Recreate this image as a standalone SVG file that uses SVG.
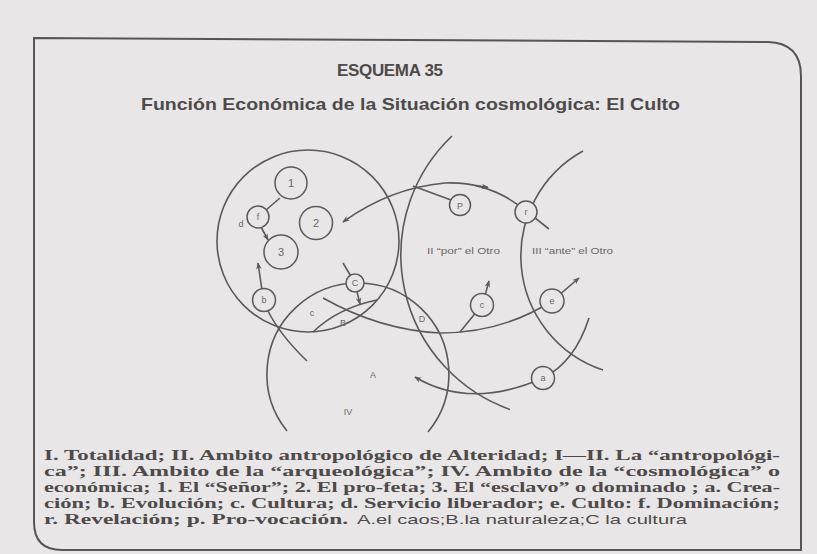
<svg xmlns="http://www.w3.org/2000/svg" width="817" height="554" viewBox="0 0 817 554">
<defs>
<marker id="arr" viewBox="0 0 10 10" refX="9" refY="5" markerUnits="userSpaceOnUse" markerWidth="11" markerHeight="7" orient="auto-start-reverse">
<path d="M0,1 L10,5 L0,9 L3,5 z" fill="#5e5959"/>
</marker>
<style>
.ln{fill:none;stroke:#5e5959;stroke-width:1.6}
.ar{fill:none;stroke:#5e5959;stroke-width:1.6;marker-end:url(#arr)}
.nd{fill:#e8e6e7;stroke:#5e5959;stroke-width:1.5}
.lb{font-family:"Liberation Sans",Arial,sans-serif;font-size:9px;fill:#6a6666;text-anchor:middle}
.num{font-size:11px}
.rg{font-family:"Liberation Sans",Arial,sans-serif;font-size:9.5px;fill:#6a6666}
.lg{font-family:"Liberation Serif","Times New Roman",serif;font-weight:bold;font-size:14px;fill:#4e4a4a}
.lgs{font-family:"Liberation Sans",Arial,sans-serif;font-weight:normal;font-size:13.5px}
.tt{font-family:"Liberation Sans",Arial,sans-serif;font-weight:bold;fill:#4e4a4a}
</style>
</defs>
<rect width="817" height="554" fill="#e8e6e7"/>
<path id="frame" d="M34,38 L768,42 Q801,43 801,76 L801,550 L62,550 Q34,550 34,522 Z" fill="none" stroke="#555" stroke-width="2"/>
<text class="tt" x="337" y="76" font-size="17" textLength="106" lengthAdjust="spacing">ESQUEMA 35</text>
<text class="tt" x="141" y="110" font-size="16.5" textLength="539" lengthAdjust="spacingAndGlyphs">Función Económica de la Situación cosmológica: El Culto</text>

<g id="ambito-I">
<circle cx="308" cy="241" r="91" class="ln"/>
</g>
<g id="ambito-II">
<path d="M452,136 A164,164 0 0 0 510,409.5" class="ln"/>
<text class="rg" x="427" y="254" textLength="73" lengthAdjust="spacingAndGlyphs">II “por” el Otro</text>
</g>
<g id="ambito-III">
<path d="M583,151 A120,120 0 0 0 603,370" class="ln"/>
<text class="rg" x="532" y="254" textLength="81" lengthAdjust="spacingAndGlyphs">III “ante” el Otro</text>
</g>
<g id="ambito-IV">
<path d="M287,431 A91,91 0 1 1 428,432" class="ln"/>
<text class="lb" x="373" y="378" font-size="10">A</text>
<text class="lb" x="348" y="415" font-size="10">IV</text>
</g>

<g id="connectors">
<path d="M343,222 Q390,188 445,183 Q490,181 526,211 L549,229" class="ln" marker-start="url(#arr)"/>
<path d="M476,185.6 L488,187.4" class="ar"/>
<path d="M413,186 L451,200" class="ln"/>
<path d="M323,298 Q380,330 440,333 Q502,333 552,301 L579,278" class="ln" marker-end="url(#arr)"/>
<path d="M460,332 L482,305" class="ln"/>
<path d="M484,299 L489,281" class="ar"/>
<path d="M415,377 Q470,410 543,378 Q575,362 589,318" class="ln" marker-start="url(#arr)"/>
<path d="M313,332 Q338,308 377,300" class="ln"/>
<path d="M268,311 Q280,335 307,361" class="ln"/>
<path d="M262,290 L258,263" class="ar"/>
<path d="M343,263 L355,283" class="ln"/>
<path d="M357,292 L360,304" class="ar"/>
<path d="M280,198 L266,210" class="ln"/>
<path d="M261,227 L268,240" class="ar"/>
</g>

<g id="n1"><circle cx="291" cy="183" r="16" class="nd"/><text class="lb num" x="291" y="187">1</text></g>
<g id="n2"><circle cx="316" cy="223" r="16.5" class="nd"/><text class="lb num" x="316" y="227">2</text></g>
<g id="n3"><circle cx="281" cy="252" r="17" class="nd"/><text class="lb num" x="281" y="256">3</text></g>
<g id="nf"><circle cx="258" cy="217" r="11" class="nd"/><text class="lb" x="258" y="220">f</text></g>
<g id="nb"><circle cx="264" cy="300" r="11.5" class="nd"/><text class="lb" x="264" y="303">b</text></g>
<g id="nC"><circle cx="355" cy="283" r="9" class="nd"/><text class="lb" x="355" y="286">C</text></g>
<g id="nP"><circle cx="460" cy="205" r="10.5" class="nd"/><text class="lb" x="460" y="208.5">P</text></g>
<g id="nr"><circle cx="526" cy="212" r="11" class="nd"/><text class="lb" x="526" y="215">r</text></g>
<g id="nc"><circle cx="482" cy="305" r="11.5" class="nd"/><text class="lb" x="482" y="308">c</text></g>
<g id="ne"><circle cx="552" cy="301" r="12" class="nd"/><text class="lb" x="552" y="304">e</text></g>
<g id="na"><circle cx="543" cy="378" r="11.5" class="nd"/><text class="lb" x="543" y="381">a</text></g>

<g id="labels">
<text class="lb" x="241" y="227" font-size="10">d</text>
<text class="lb" x="312" y="316" font-size="10">c</text>
<text class="lb" x="343" y="326" font-size="10">B</text>
<text class="lb" x="422" y="322" font-size="10">D</text>
</g>

<g id="legend">
<text class="lg" x="44" y="460" textLength="736" lengthAdjust="spacingAndGlyphs">I. Totalidad; II. Ambito antropológico de Alteridad; I—II. La “antropológi-</text>
<text class="lg" x="44" y="476" textLength="736" lengthAdjust="spacingAndGlyphs">ca”; III. Ambito de la “arqueológica”; IV. Ambito de la “cosmológica” o</text>
<text class="lg" x="44" y="492" textLength="736" lengthAdjust="spacingAndGlyphs">económica; 1. El “Señor”; 2. El pro-feta; 3. El “esclavo” o dominado ; a. Crea-</text>
<text class="lg" x="44" y="508" textLength="736" lengthAdjust="spacingAndGlyphs">ción; b. Evolución; c. Cultura; d. Servicio liberador; e. Culto: f. Dominación;</text>
<text class="lg" x="44" y="524"><tspan textLength="310" lengthAdjust="spacingAndGlyphs">r. Revelación; p. Pro-vocación. </tspan><tspan class="lgs" x="357" textLength="330" lengthAdjust="spacingAndGlyphs">A.el caos;B.la naturaleza;C la cultura</tspan></text>
</g>
</svg>
